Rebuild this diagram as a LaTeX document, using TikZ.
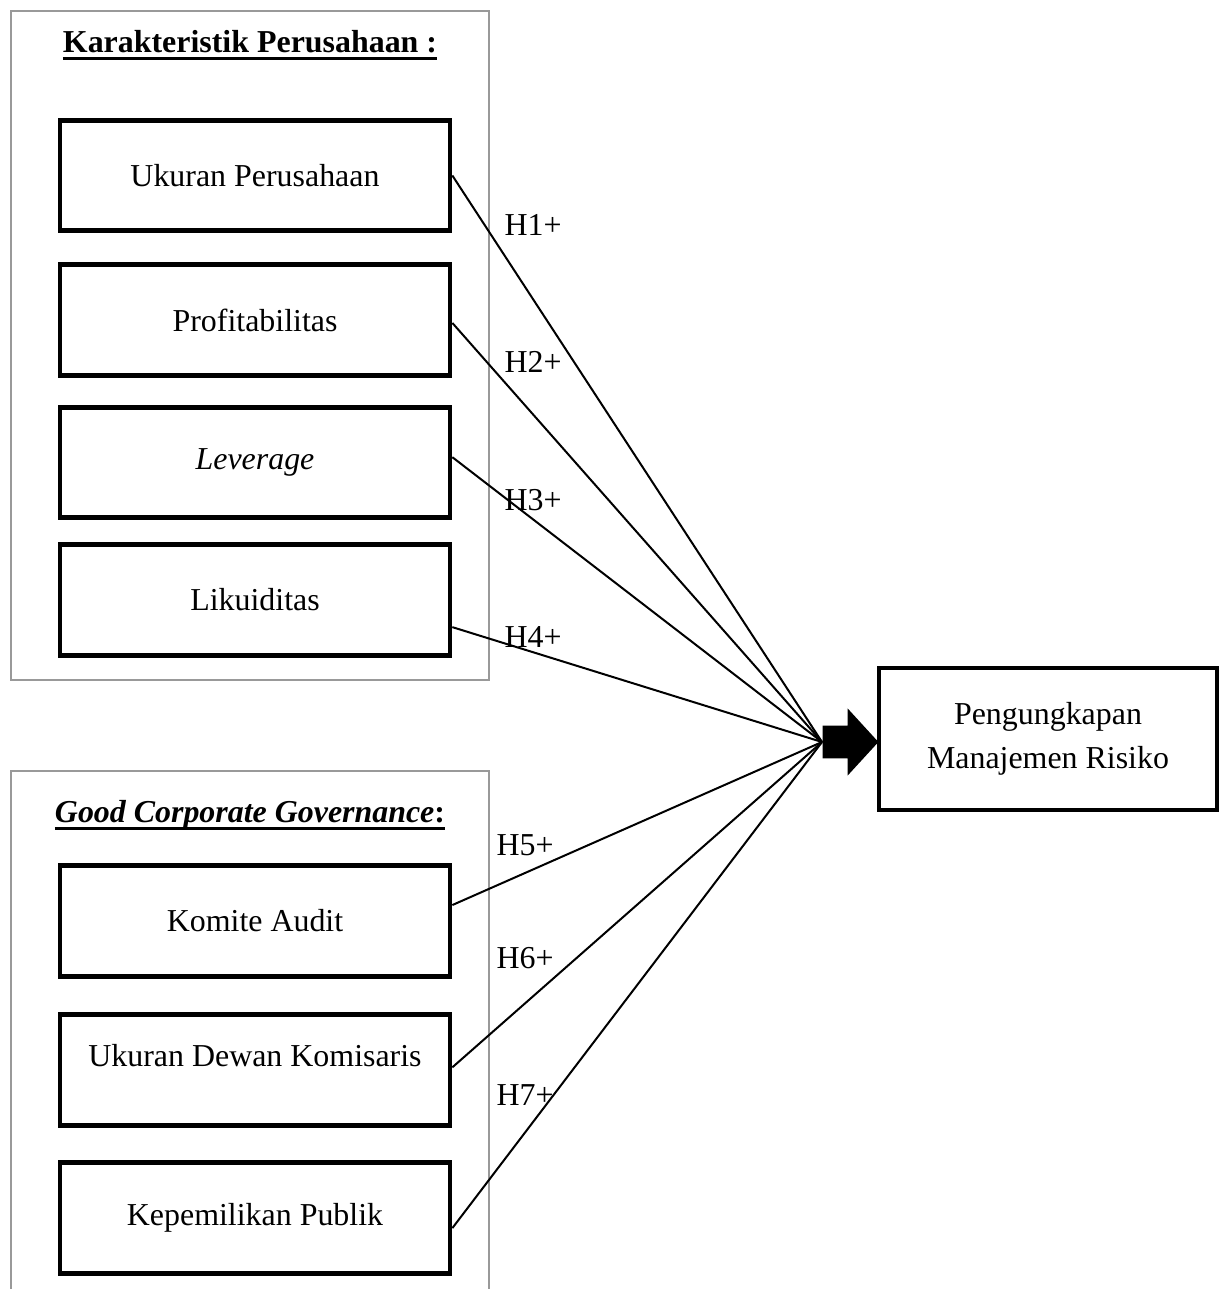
\documentclass[tikz,border=0pt]{standalone}
\usepackage{fontspec}
\setmainfont{Liberation Serif}
\usetikzlibrary{shapes.arrows}
\newcommand\heavyul[1]{\setbox0=\hbox{#1}\makebox[0pt][l]{\rule[-2.8pt]{\wd0}{1.1pt}}\box0}
\begin{document}
\begin{tikzpicture}[x=0.376pt, y=-0.376pt,
  every node/.style={font=\fontsize{12}{16.5}\selectfont},
  varbox/.style={draw, line width=1.8pt, minimum width=146.6pt, minimum height=41.5pt, inner sep=0pt, align=center},
  groupframe/.style={draw=black!40, line width=0.6pt},
  link/.style={line width=0.75pt}]
\useasboundingbox (0,0) rectangle (1229,1289);

% group frames
\draw[groupframe] (11,11) rectangle (489,680);
\draw[groupframe] (11,1289) -- (11,771) -- (489,771) -- (489,1289);
\node (title1) at (250,45) {\heavyul{\textbf{Karakteristik Perusahaan :}}};
\node (title2) at (250,815) {\heavyul{\textbf{\textit{Good Corporate Governance}:}}};

% independent variables
\node[varbox] (ukuran) at (255,175.5) {Ukuran Perusahaan};
\node[varbox] (profit) at (255,320) {Profitabilitas};
\node[varbox] (lever) at (255,462.5) {\textit{Leverage}};
\node[varbox] (likuid) at (255,600) {Likuiditas};
\node[varbox] (komite) at (255,921) {Komite Audit};
\node[varbox] (dewan) at (255,1070) {\raisebox{11pt}{Ukuran Dewan Komisaris}};
\node[varbox] (publik) at (255,1218) {Kepemilikan Publik};

% dependent variable
\node[varbox, minimum width=127.1pt, minimum height=53.4pt] (risiko) at (1048,739) {Pengungkapan\\Manajemen Risiko};

\coordinate (hub) at (822,742);
\node[single arrow, fill, draw=none, inner sep=6pt, minimum height=21pt,
  single arrow head extend=6.4pt, single arrow tip angle=95, anchor=tail] (arrow) at (hub) {};

\draw[link] (ukuran.east) -- (hub);
\draw[link] ([yshift=-1.1pt]profit.east) -- (hub);
\draw[link] ([yshift=2pt]lever.east) -- (hub);
\draw[link] ([yshift=-10.2pt]likuid.east) -- (hub);
\draw[link] ([yshift=6pt]komite.east) -- (hub);
\draw[link] ([yshift=1pt]dewan.east) -- (hub);
\draw[link] ([yshift=-3.8pt]publik.east) -- (hub);

\node (h1) at (533,225) {H1+};
\node (h2) at (533,362) {H2+};
\node (h3) at (533,500) {H3+};
\node (h4) at (533,637) {H4+};
\node (h5) at (525,845) {H5+};
\node (h6) at (525,958) {H6+};
\node (h7) at (525,1095) {H7+};
\end{tikzpicture}
\end{document}
